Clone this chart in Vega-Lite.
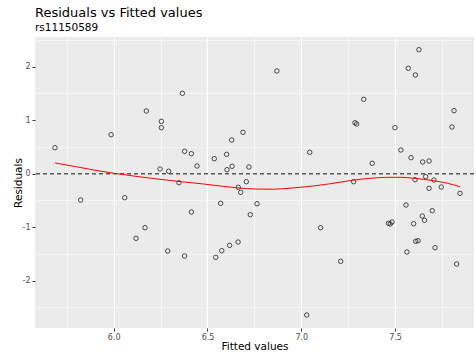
{
  "$schema": "https://vega.github.io/schema/vega-lite/v6.json",
  "autosize": "none",
  "width": 439,
  "height": 291,
  "padding": {"left": 35, "top": 37, "right": 2, "bottom": 26},
  "background": "white",
  "title": {
    "text": "Residuals vs Fitted values",
    "subtitle": "rs11150589",
    "anchor": "start",
    "frame": "group",
    "font": "DejaVu Sans",
    "fontSize": 13,
    "fontWeight": "normal",
    "color": "black",
    "subtitleFont": "DejaVu Sans",
    "subtitleFontSize": 10.5,
    "subtitleColor": "black",
    "subtitlePadding": 3,
    "offset": 4
  },
  "config": {
    "view": {"fill": "#EBEBEB", "stroke": null},
    "axis": {
      "labelFont": "DejaVu Sans",
      "labelFontSize": 8,
      "labelColor": "#4D4D4D",
      "titleFont": "DejaVu Sans",
      "titleFontSize": 10.5,
      "titleFontWeight": "normal",
      "titleColor": "black",
      "domain": false,
      "tickSize": 3,
      "tickWidth": 1,
      "tickColor": "#333333",
      "gridColor": "white"
    }
  },
  "resolve": {"axis": {"y": "independent"}},
  "datasets": {
    "fit": [
      {"fitted": 5.687, "resid": 0.486}, {"fitted": 5.824, "resid": -0.492},
      {"fitted": 5.986, "resid": 0.729}, {"fitted": 6.059, "resid": -0.449},
      {"fitted": 6.119, "resid": -1.208}, {"fitted": 6.167, "resid": -1.009},
      {"fitted": 6.174, "resid": 1.172}, {"fitted": 6.247, "resid": 0.088},
      {"fitted": 6.254, "resid": 0.979}, {"fitted": 6.254, "resid": 0.86},
      {"fitted": 6.288, "resid": -1.445}, {"fitted": 6.293, "resid": 0.045},
      {"fitted": 6.348, "resid": -0.168}, {"fitted": 6.366, "resid": 1.503},
      {"fitted": 6.378, "resid": 0.419}, {"fitted": 6.378, "resid": -1.538},
      {"fitted": 6.414, "resid": 0.374}, {"fitted": 6.414, "resid": -0.716},
      {"fitted": 6.444, "resid": 0.144}, {"fitted": 6.536, "resid": 0.28},
      {"fitted": 6.544, "resid": -1.563}, {"fitted": 6.57, "resid": -0.553},
      {"fitted": 6.576, "resid": -1.439}, {"fitted": 6.602, "resid": 0.362},
      {"fitted": 6.604, "resid": 0.075}, {"fitted": 6.618, "resid": -1.339},
      {"fitted": 6.629, "resid": 0.63}, {"fitted": 6.631, "resid": 0.138},
      {"fitted": 6.663, "resid": -1.277}, {"fitted": 6.664, "resid": -0.254},
      {"fitted": 6.677, "resid": -0.348}, {"fitted": 6.689, "resid": 0.774},
      {"fitted": 6.707, "resid": -0.15}, {"fitted": 6.721, "resid": 0.125},
      {"fitted": 6.728, "resid": -0.766}, {"fitted": 6.764, "resid": -0.561},
      {"fitted": 6.87, "resid": 1.92}, {"fitted": 7.029, "resid": -2.641},
      {"fitted": 7.045, "resid": 0.4}, {"fitted": 7.103, "resid": -1.009},
      {"fitted": 7.21, "resid": -1.637}, {"fitted": 7.279, "resid": -0.15},
      {"fitted": 7.286, "resid": 0.953}, {"fitted": 7.295, "resid": 0.929},
      {"fitted": 7.333, "resid": 1.391}, {"fitted": 7.378, "resid": 0.194},
      {"fitted": 7.465, "resid": -0.927}, {"fitted": 7.474, "resid": -0.94},
      {"fitted": 7.484, "resid": -0.903}, {"fitted": 7.499, "resid": 0.86},
      {"fitted": 7.531, "resid": 0.443}, {"fitted": 7.558, "resid": -0.585},
      {"fitted": 7.563, "resid": -1.464}, {"fitted": 7.57, "resid": 1.97},
      {"fitted": 7.585, "resid": 0.299}, {"fitted": 7.599, "resid": -0.935},
      {"fitted": 7.606, "resid": -0.112}, {"fitted": 7.608, "resid": 1.845},
      {"fitted": 7.61, "resid": -1.264}, {"fitted": 7.622, "resid": -1.252},
      {"fitted": 7.627, "resid": 2.318}, {"fitted": 7.645, "resid": -0.791},
      {"fitted": 7.647, "resid": 0.219}, {"fitted": 7.657, "resid": -0.871},
      {"fitted": 7.663, "resid": -0.056}, {"fitted": 7.681, "resid": 0.237},
      {"fitted": 7.681, "resid": -0.273}, {"fitted": 7.698, "resid": -0.691},
      {"fitted": 7.707, "resid": -0.118}, {"fitted": 7.713, "resid": -1.383},
      {"fitted": 7.746, "resid": -0.249}, {"fitted": 7.803, "resid": 0.873},
      {"fitted": 7.814, "resid": 1.178}, {"fitted": 7.828, "resid": -1.688},
      {"fitted": 7.846, "resid": -0.367}
    ],
    "smooth": [
      {"fitted": 5.687, "resid": 0.2}, {"fitted": 5.8, "resid": 0.13},
      {"fitted": 5.9, "resid": 0.065}, {"fitted": 6.0, "resid": 0.008},
      {"fitted": 6.12, "resid": -0.05}, {"fitted": 6.247, "resid": -0.105},
      {"fitted": 6.36, "resid": -0.15}, {"fitted": 6.478, "resid": -0.192},
      {"fitted": 6.58, "resid": -0.235}, {"fitted": 6.664, "resid": -0.267},
      {"fitted": 6.76, "resid": -0.287}, {"fitted": 6.851, "resid": -0.29},
      {"fitted": 6.94, "resid": -0.27}, {"fitted": 7.029, "resid": -0.243},
      {"fitted": 7.15, "resid": -0.19}, {"fitted": 7.277, "resid": -0.12},
      {"fitted": 7.37, "resid": -0.085}, {"fitted": 7.455, "resid": -0.068},
      {"fitted": 7.53, "resid": -0.067}, {"fitted": 7.597, "resid": -0.085},
      {"fitted": 7.66, "resid": -0.108}, {"fitted": 7.704, "resid": -0.13},
      {"fitted": 7.78, "resid": -0.18}, {"fitted": 7.846, "resid": -0.243}
    ],
    "zero": [{"resid": 0}]
  },
  "layer": [
    {
      "data": {"name": "zero"},
      "mark": {"type": "rule", "color": "#5A5A5A", "strokeWidth": 1.5, "strokeDash": [4, 3]},
      "encoding": {
        "y": {
          "field": "resid",
          "type": "quantitative",
          "scale": {"domain": [-2.884, 2.555], "nice": false, "zero": false},
          "axis": {
            "orient": "left",
            "values": [-2.5, -1.5, -0.5, 0.5, 1.5, 2.5],
            "gridWidth": 0.55,
            "labels": false,
            "ticks": false,
            "title": null,
            "zindex": 0
          }
        }
      }
    },
    {
      "data": {"name": "fit"},
      "mark": {"type": "point", "shape": "circle", "filled": false, "size": 20, "stroke": "#222222", "strokeWidth": 0.8, "opacity": 1},
      "encoding": {
        "x": {
          "field": "fitted",
          "type": "quantitative",
          "scale": {"domain": [5.5805, 7.9206], "nice": false, "zero": false},
          "axis": {
            "title": "Fitted values",
            "values": [5.75, 6, 6.25, 6.5, 6.75, 7, 7.25, 7.5, 7.75],
            "format": ".1f",
            "labelExpr": "abs(datum.value * 2 - round(datum.value * 2)) < 0.01 ? datum.label : ''",
            "tickColor": {"condition": {"test": "abs(datum.value * 2 - round(datum.value * 2)) < 0.01", "value": "#333333"}, "value": "transparent"},
            "gridWidth": {"condition": {"test": "abs(datum.value * 2 - round(datum.value * 2)) < 0.01", "value": 1.1}, "value": 0.55},
            "labelPadding": 2,
            "titlePadding": 0
          }
        },
        "y": {
          "field": "resid",
          "type": "quantitative",
          "axis": {
            "orient": "left",
            "title": "Residuals",
            "values": [-2, -1, 0, 1, 2],
            "labelExpr": "toString(datum.value)",
            "gridWidth": 1.1,
            "labelPadding": 2,
            "titlePadding": -1
          }
        }
      }
    },
    {
      "data": {"name": "smooth"},
      "mark": {"type": "line", "color": "red", "strokeWidth": 1, "interpolate": "monotone"},
      "encoding": {
        "x": {"field": "fitted", "type": "quantitative"},
        "y": {"field": "resid", "type": "quantitative", "axis": null}
      }
    }
  ]
}
